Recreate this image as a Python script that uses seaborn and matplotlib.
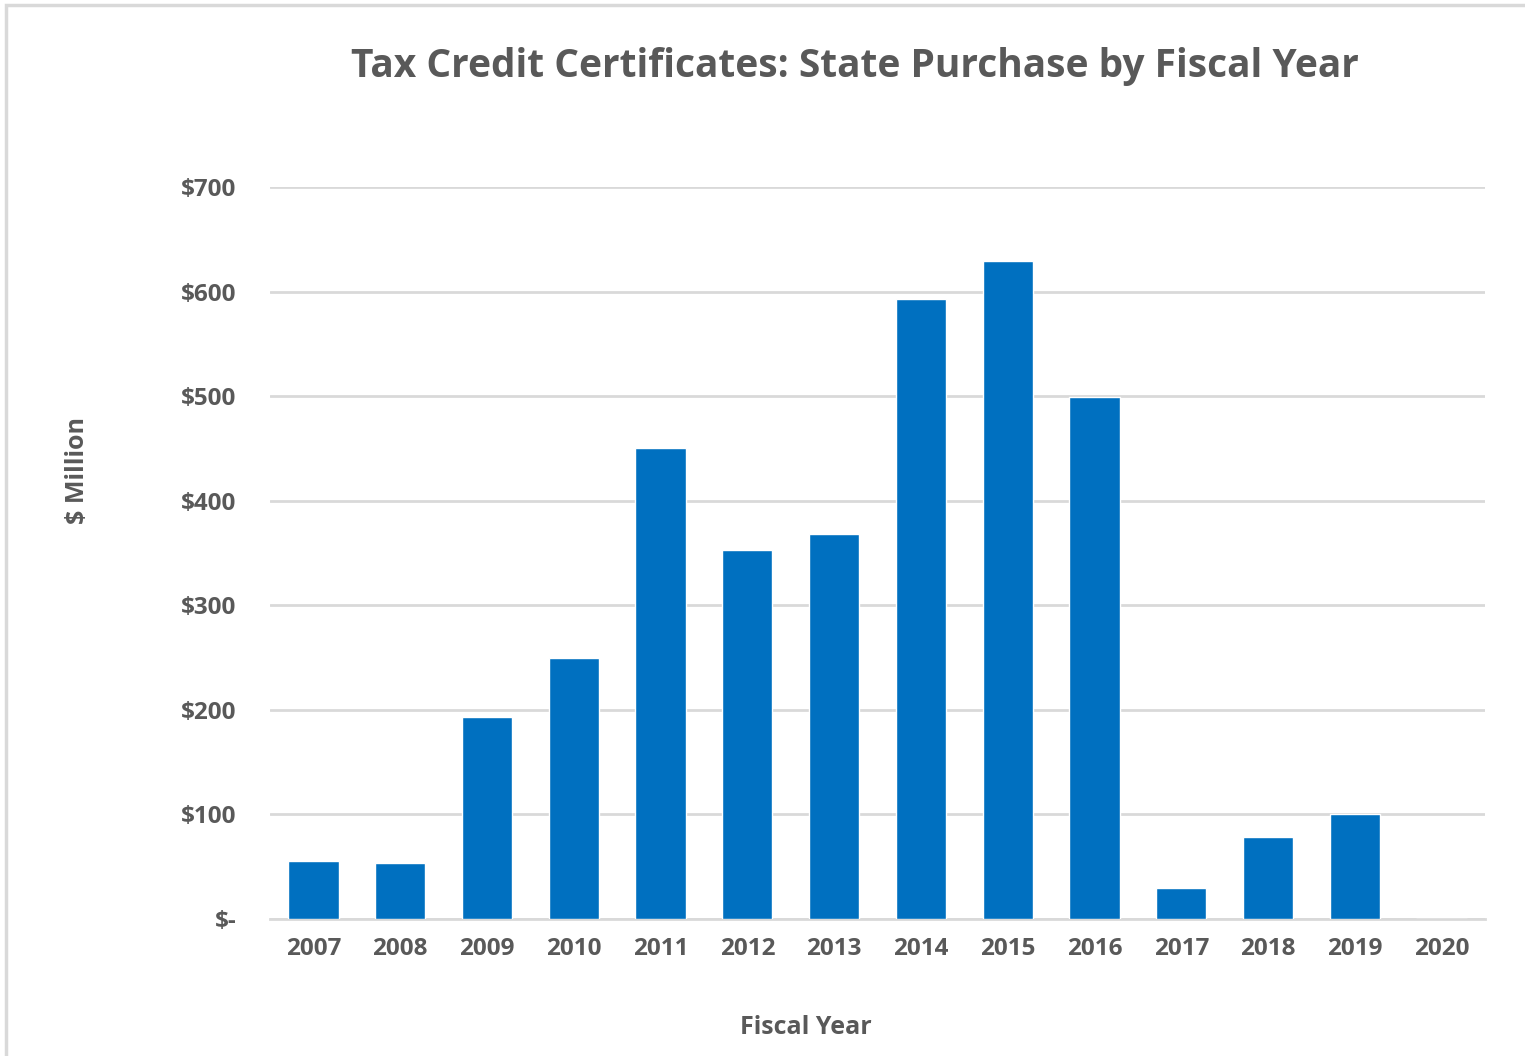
import matplotlib
matplotlib.use("Agg")
import matplotlib.pyplot as plt
import seaborn as sns
import pandas as pd
from matplotlib.patches import Rectangle
from matplotlib.ticker import FuncFormatter

years = ["2007", "2008", "2009", "2010", "2011", "2012", "2013",
         "2014", "2015", "2016", "2017", "2018", "2019", "2020"]
values = [55, 54, 193, 250, 450, 353, 368, 593, 629, 499, 30, 78, 100, 0]
yticks = [0, 100, 200, 300, 400, 500, 600, 700]

sns.set_theme(style="white")
plt.rcParams['font.family'] = ['Open Sans', 'DejaVu Sans']

grey = "#595959"
df = pd.DataFrame({"year": years, "value": values})

fig = plt.figure(figsize=(15.25, 10.56), dpi=100)
ax = fig.add_axes([270/1525, 137/1056, 1215/1525, (919-187)/1056])

sns.barplot(data=df, x="year", y="value", color="#0070C0", saturation=1,
            width=0.58, ax=ax, zorder=3)

ax.set_ylim(0, 700)
ax.set_xlim(-0.5, len(years) - 0.5)
ax.set_yticks(yticks)
ax.yaxis.set_major_formatter(FuncFormatter(lambda v, p: "$-" if v == 0 else f"${int(v)}"))
ax.grid(axis="y", color="#D9D9D9", linewidth=2, zorder=0)
for s in ["top", "right", "left"]:
    ax.spines[s].set_visible(False)
ax.spines["bottom"].set_color("#D9D9D9")
ax.spines["bottom"].set_linewidth(2)
ax.tick_params(axis="both", length=0, labelsize=17.5, labelcolor=grey)
ax.tick_params(axis="y", pad=24)
ax.tick_params(axis="x", pad=13)
for lab in ax.get_xticklabels() + ax.get_yticklabels():
    lab.set_fontweight("bold")

ax.set_xlabel("")
ax.set_ylabel("")
fig.text(806/1525, 1 - 1027/1056, "Fiscal Year", ha="center", va="center",
         fontsize=18, color=grey, fontweight="bold")
fig.text(77/1525, 1 - 470/1056, "$ Million", ha="center", va="center",
         rotation=90, fontsize=18, color=grey, fontweight="bold")
fig.text(855/1525, 1 - 66/1056, "Tax Credit Certificates: State Purchase by Fiscal Year",
         ha="center", va="center", fontsize=28, color=grey, fontweight="bold")

fig.patches.append(Rectangle((6/1525, -0.1), 1.2, (1056-5)/1056 + 0.1,
                             transform=fig.transFigure, fill=False,
                             edgecolor="#D9D9D9", linewidth=2.5))

fig.savefig("out.png", dpi=100)
